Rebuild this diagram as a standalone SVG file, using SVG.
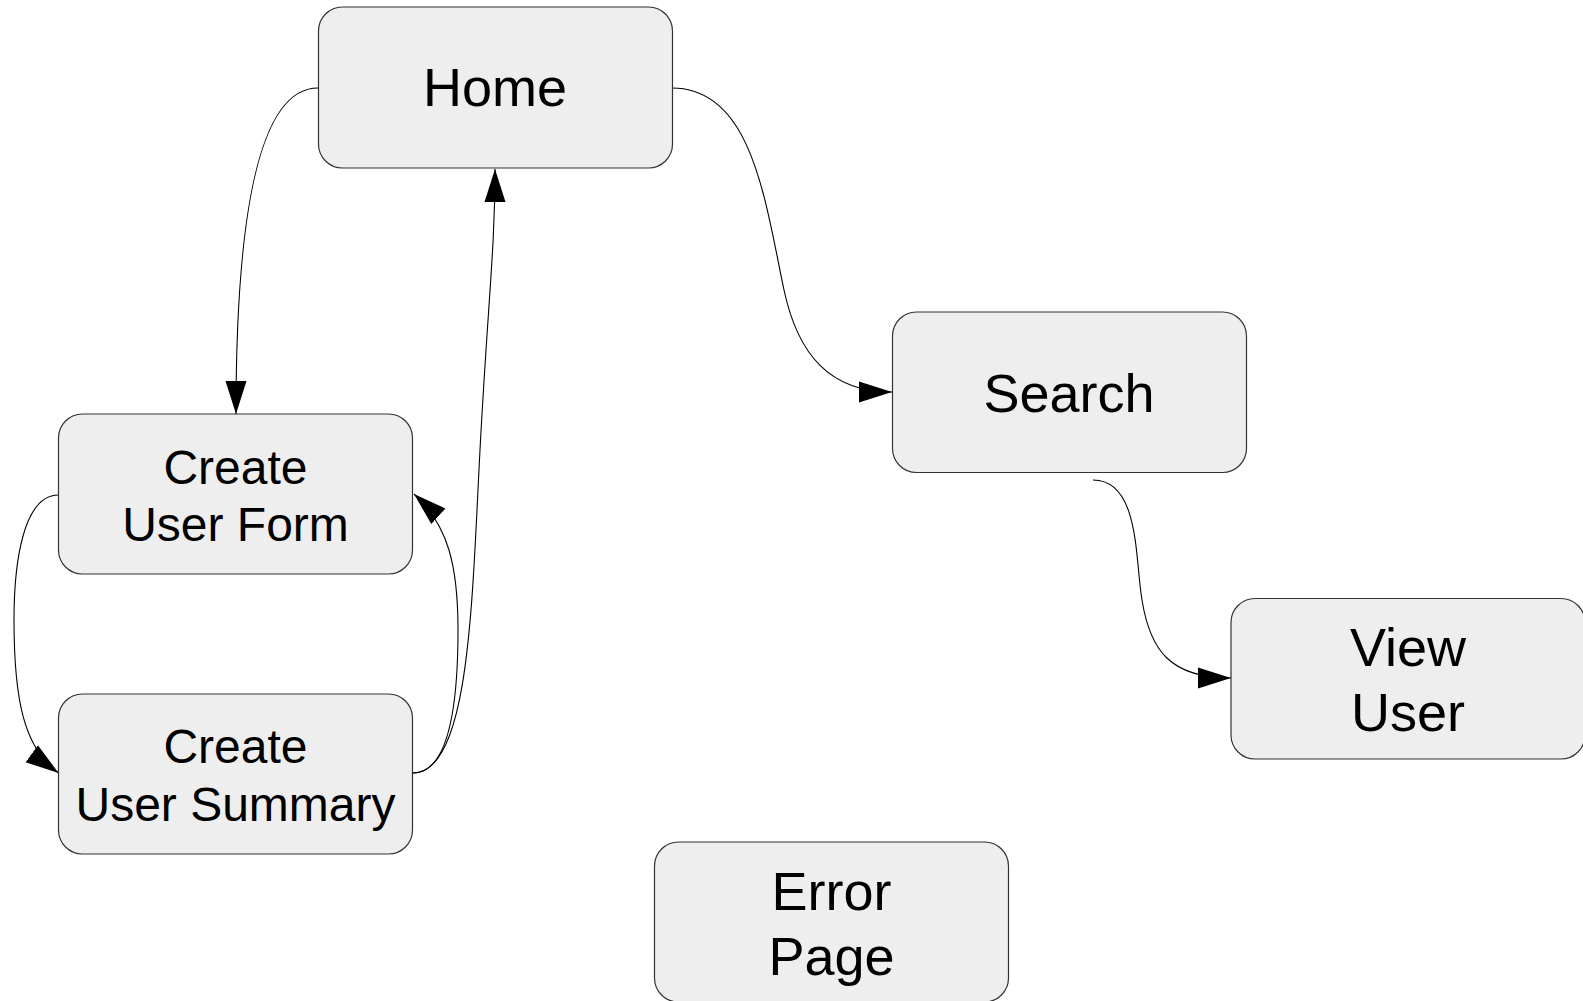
<svg xmlns="http://www.w3.org/2000/svg" width="1583" height="1001" viewBox="0 0 1583 1001">
<defs>
<style>
.box{fill:#eeeeee;stroke:#333333;stroke-width:1.2}
.lbl{font-family:"Liberation Sans",Arial,sans-serif;fill:#000000;text-anchor:middle}
.big{font-size:54px}
.small{font-size:48px}
.edge{fill:none;stroke:#000000;stroke-width:1.1}
</style>
<marker id="arr" markerUnits="userSpaceOnUse" markerWidth="34" markerHeight="24" viewBox="0 0 34 24" refX="33" refY="12" orient="auto">
<path d="M0,1.5 L33,12 L0,22.5 z" fill="#000000"/>
</marker>
</defs>
<rect width="1583" height="1001" fill="#ffffff"/>
<g id="connectors">
<path class="edge" marker-end="url(#arr)" d="M318,88 C262,88 236,200 236,414"/>
<path class="edge" marker-end="url(#arr)" d="M672,88 C752,88 765,200 784,290 C798,355 830,392 892,392"/>
<path class="edge" marker-end="url(#arr)" d="M1093,480 C1140,480 1135,560 1142,600 C1150,650 1170,678 1231,678"/>
<path class="edge" marker-end="url(#arr)" d="M413,773 C470,773 472,600 480,450 C488,300 495,250 495,169"/>
<path class="edge" marker-end="url(#arr)" d="M413,773 C452,773 458,690 458,630 C458,565 448,525 414,494"/>
<path class="edge" marker-end="url(#arr)" d="M58.5,495 C24,495 14,560 14,620 C14,700 24,748 58.5,773"/>
</g>
<g id="home">
<rect class="box" x="318.5" y="7" width="354" height="161" rx="24"/>
<text class="lbl big" x="495" y="106">Home</text>
</g>
<g id="search">
<rect class="box" x="892.5" y="312" width="354" height="160.5" rx="24"/>
<text class="lbl big" x="1069" y="412">Search</text>
</g>
<g id="create-user-form">
<rect class="box" x="58.5" y="414" width="354" height="160" rx="24"/>
<text class="lbl small" x="235.5" y="484">Create</text>
<text class="lbl small" x="235.5" y="541">User Form</text>
</g>
<g id="create-user-summary">
<rect class="box" x="58.5" y="694" width="354" height="160" rx="24"/>
<text class="lbl small" x="235.5" y="763">Create</text>
<text class="lbl small" x="235.5" y="821">User Summary</text>
</g>
<g id="view-user">
<rect class="box" x="1231" y="598.5" width="354" height="160.5" rx="24"/>
<text class="lbl big" x="1408" y="666">View</text>
<text class="lbl big" x="1408" y="731">User</text>
</g>
<g id="error-page">
<rect class="box" x="654.5" y="842" width="354" height="160" rx="24"/>
<text class="lbl big" x="831.5" y="910">Error</text>
<text class="lbl big" x="831.5" y="975">Page</text>
</g>
</svg>
